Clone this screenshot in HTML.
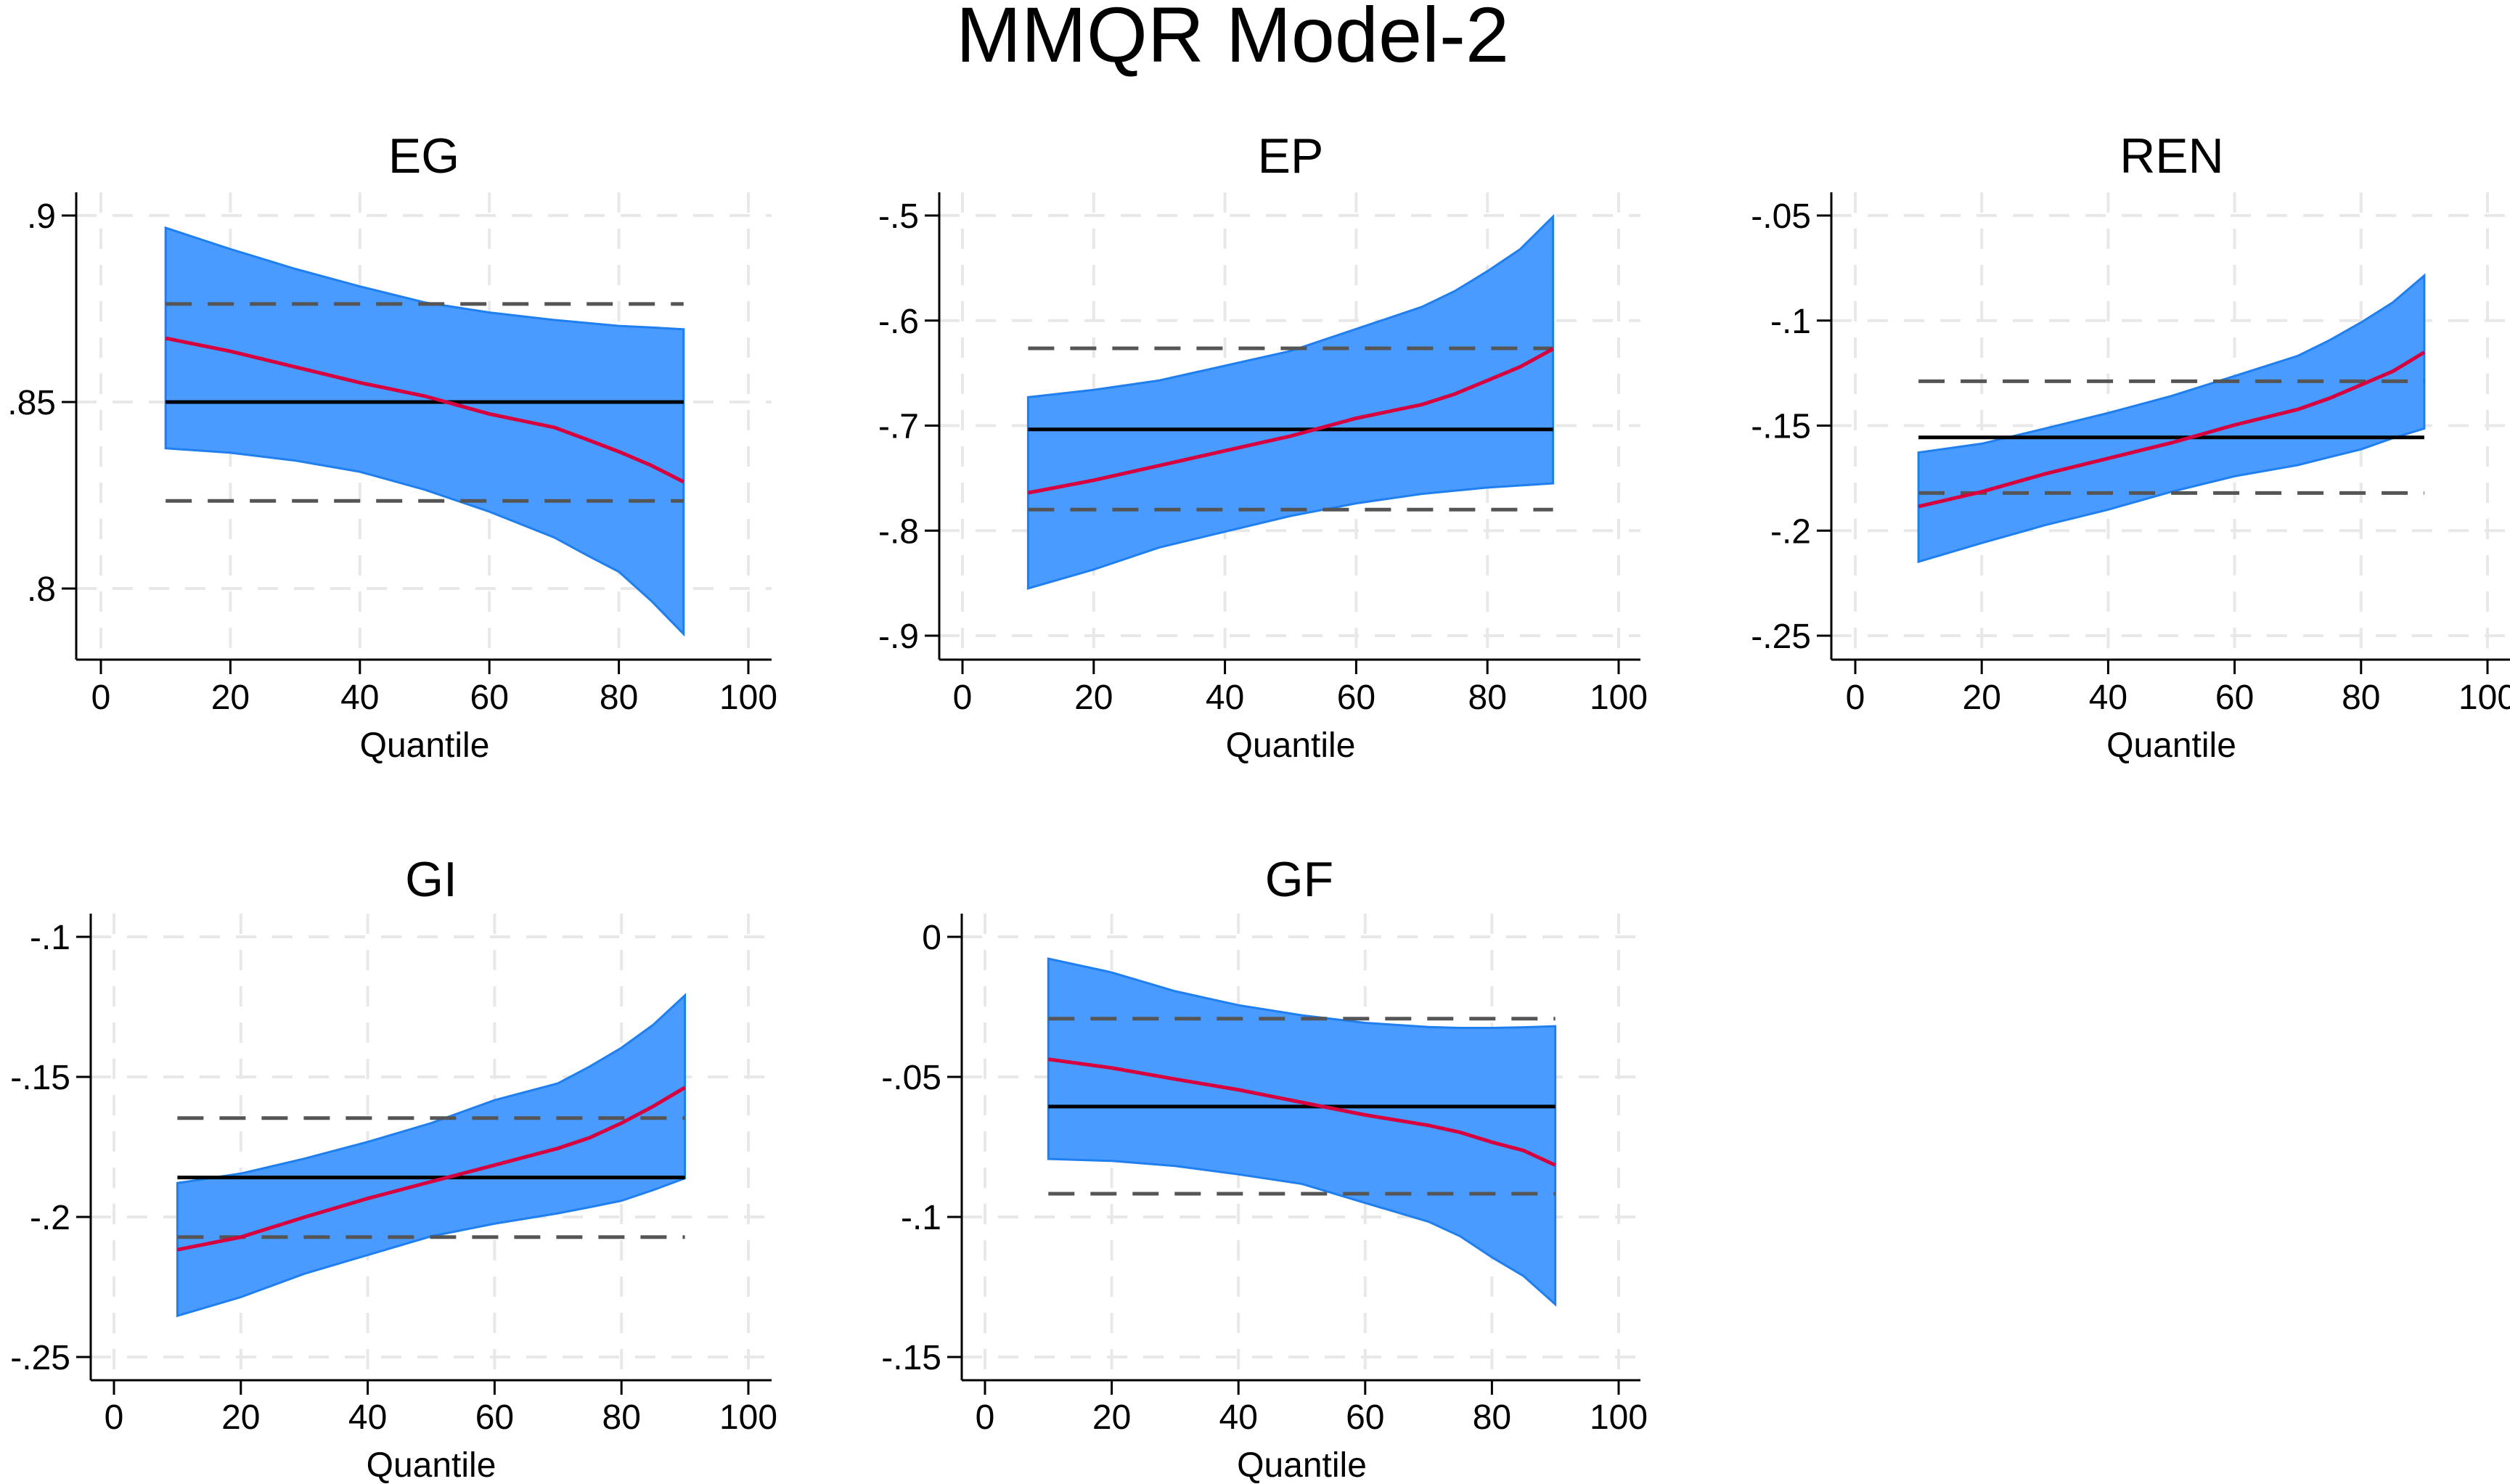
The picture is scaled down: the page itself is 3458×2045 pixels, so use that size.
<!DOCTYPE html>
<html><head><meta charset="utf-8">
<style>
html,body{margin:0;padding:0;background:#fff;}
svg{display:block;font-family:"Liberation Sans",Arial,sans-serif;}
</style></head>
<body>
<svg id="chart" width="3458" height="2045" viewBox="0 0 3458 2045" xmlns="http://www.w3.org/2000/svg">
<rect width="3458" height="2045" fill="#fff"/>
<text x="1698" y="85" font-size="108" text-anchor="middle" fill="#000">MMQR Model-2</text>
</svg>
<script>
const quantiles = [10,20,30,40,50,60,70,75,80,85,90];
const xTicks = [0,20,40,60,80,100];

const egUpper = [.8967,.891,.8857,.881,.8767,.874,.872,.8712,.8704,.870,.8695];
const egLower = [.8376,.8364,.8343,.8313,.8265,.8206,.8137,.809,.8045,.7967,.7878];
const egCoef  = [.8671,.8636,.8594,.8552,.8516,.8468,.8432,.840,.8367,.833,.8286];
const egOls = [.850, .8763, .8235];
const egTicks = [.9,.85,.8]; const egTickLabels = [".9",".85",".8"];

const epUpper = [-.673,-.666,-.657,-.643,-.629,-.608,-.587,-.572,-.553,-.532,-.501];
const epLower = [-.855,-.837,-.816,-.801,-.786,-.774,-.765,-.762,-.759,-.757,-.755];
const epCoef  = [-.764,-.752,-.738,-.724,-.710,-.693,-.680,-.670,-.657,-.644,-.627];
const epOls = [-.7036, -.6264, -.780];
const epTicks = [-.5,-.6,-.7,-.8,-.9]; const epTickLabels = ["-.5","-.6","-.7","-.8","-.9"];

const renUpper = [-.1628,-.1586,-.1514,-.144,-.1359,-.1264,-.1168,-.1094,-.1009,-.0914,-.0786];
const renLower = [-.2148,-.2059,-.1974,-.19,-.1815,-.1741,-.1688,-.165,-.1613,-.156,-.1514];
const renCoef  = [-.1885,-.1815,-.173,-.1656,-.1582,-.1497,-.1423,-.137,-.1306,-.1242,-.1151];
const renOls = [-.1556, -.1289, -.1821];
const renTicks = [-.05,-.1,-.15,-.2,-.25]; const renTickLabels = ["-.05","-.1","-.15","-.2","-.25"];

const giUpper = [-.1879,-.1845,-.1792,-.1732,-.1665,-.1583,-.1523,-.1463,-.1396,-.1314,-.1209];
const giLower = [-.2353,-.2286,-.2203,-.2136,-.2069,-.2024,-.1987,-.1965,-.1942,-.1904,-.1862];
const giCoef  = [-.2117,-.2072,-.2001,-.1934,-.1874,-.1815,-.1755,-.1717,-.1665,-.1605,-.1538];
const giOls = [-.1859, -.1647, -.2072];
const giTicks = [-.1,-.15,-.2,-.25]; const giTickLabels = ["-.1","-.15","-.2","-.25"];

const gfUpper = [-.0078,-.0127,-.0194,-.0244,-.028,-.0307,-.0322,-.0325,-.0325,-.0323,-.0319];
const gfLower = [-.0793,-.08,-.0818,-.0848,-.0882,-.095,-.1017,-.1069,-.1144,-.1211,-.1312];
const gfCoef  = [-.0437,-.0468,-.0508,-.0546,-.0591,-.0636,-.0673,-.0698,-.0733,-.0763,-.0815];
const gfOls = [-.0606, -.0292, -.0917];
const gfTicks = [0,-.05,-.1,-.15]; const gfTickLabels = ["0","-.05","-.1","-.15"];

const NS = "http://www.w3.org/2000/svg";
const svg = document.getElementById("chart");
function mk(tag, attrs, parent){
  const e = document.createElementNS(NS, tag);
  for (const k in attrs) e.setAttribute(k, attrs[k]);
  (parent||svg).appendChild(e);
  return e;
}

const panels = [
  {key:"eg", title:"EG", up:egUpper, lo:egLower, coef:egCoef, ols:egOls, ticks:egTicks, labels:egTickLabels,
   x0:139,x100:1031, v1:.9,p1:297,v2:.8,p2:811, axX:105, axRight:1063, top:265, bot:909, titleX:584, titleY:238, tickY:977, qY:1043},
  {key:"ep", title:"EP", up:epUpper, lo:epLower, coef:epCoef, ols:epOls, ticks:epTicks, labels:epTickLabels,
   x0:1326,x100:2230, v1:-.5,p1:297,v2:-.9,p2:876, axX:1294, axRight:2260, top:265, bot:909, titleX:1778, titleY:238, tickY:977, qY:1043},
  {key:"ren", title:"REN", up:renUpper, lo:renLower, coef:renCoef, ols:renOls, ticks:renTicks, labels:renTickLabels,
   x0:2556,x100:3427, v1:-.05,p1:297,v2:-.25,p2:876, axX:2523, axRight:3458, top:265, bot:909, titleX:2992, titleY:238, tickY:977, qY:1043},
  {key:"gi", title:"GI", up:giUpper, lo:giLower, coef:giCoef, ols:giOls, ticks:giTicks, labels:giTickLabels,
   x0:157,x100:1031, v1:-.1,p1:1291,v2:-.25,p2:1870, axX:125, axRight:1063, top:1259, bot:1902, titleX:594, titleY:1235, tickY:1969, qY:2035},
  {key:"gf", title:"GF", up:gfUpper, lo:gfLower, coef:gfCoef, ols:gfOls, ticks:gfTicks, labels:gfTickLabels,
   x0:1357,x100:2230, v1:0,p1:1291,v2:-.15,p2:1870, axX:1325, axRight:2260, top:1259, bot:1902, titleX:1790, titleY:1235, tickY:1969, qY:2035}
];

panels.forEach(p => {
  const xs = q => p.x0 + (p.x100 - p.x0) * q / 100;
  const ys = v => p.p1 + (p.p2 - p.p1) * (v - p.v1) / (p.v2 - p.v1);
  const g = mk("g", {});
  
  

  xTicks.forEach(t => {
    const l = mk("line", {x1:xs(t), x2:xs(t), y1:p.top, y2:p.bot, stroke:"#e8e8e8", "stroke-width":4, "stroke-dasharray":"28 22"}, g);
    
    
  });
  p.ticks.forEach(t => {
    const l = mk("line", {x1:p.axX, x2:p.axRight, y1:ys(t), y2:ys(t), stroke:"#e8e8e8", "stroke-width":4, "stroke-dasharray":"28 22"}, g);
    
    
  });

  let d = "";
  quantiles.forEach((q,i) => { d += (i ? "L" : "M") + xs(q) + "," + ys(p.up[i]); });
  for (let i = quantiles.length - 1; i >= 0; i--) d += "L" + xs(quantiles[i]) + "," + ys(p.lo[i]);
  d += "Z";
  const band = mk("path", {d:d, fill:"#4a9bff", stroke:"#1f7fef", "stroke-width":3}, g);
  
  

  const qa = quantiles[0], qb = quantiles[quantiles.length - 1];
  const ols = mk("line", {x1:xs(qa), x2:xs(qb), y1:ys(p.ols[0]), y2:ys(p.ols[0]), stroke:"#000", "stroke-width":5}, g);
  
  
  [1,2].forEach(k => {
    const l = mk("line", {x1:xs(qa), x2:xs(qb), y1:ys(p.ols[k]), y2:ys(p.ols[k]), stroke:"#555", "stroke-width":5, "stroke-dasharray":"36 22"}, g);
    
    
  });

  let cd = "";
  quantiles.forEach((q,i) => { cd += (i ? "L" : "M") + xs(q) + "," + ys(p.coef[i]); });
  const coef = mk("path", {d:cd, fill:"none", stroke:"#d6003f", "stroke-width":5}, g);
  
  

  const ya = mk("line", {x1:p.axX, x2:p.axX, y1:p.top, y2:p.bot, stroke:"#000", "stroke-width":3}, g);
  
  
  const xa = mk("line", {x1:p.axX, x2:p.axRight, y1:p.bot, y2:p.bot, stroke:"#000", "stroke-width":3}, g);
  
  

  p.ticks.forEach((t,i) => {
    mk("line", {x1:p.axX - 20, x2:p.axX, y1:ys(t), y2:ys(t), stroke:"#000", "stroke-width":3}, g);
    const tx = mk("text", {x:p.axX - 28, y:ys(t) + 17, "font-size":48, "text-anchor":"end", fill:"#000"}, g);
    tx.textContent = p.labels[i];
    
    
  });
  xTicks.forEach(t => {
    mk("line", {x1:xs(t), x2:xs(t), y1:p.bot, y2:p.bot + 20, stroke:"#000", "stroke-width":3}, g);
    const tx = mk("text", {x:xs(t), y:p.tickY, "font-size":48, "text-anchor":"middle", fill:"#000"}, g);
    tx.textContent = String(t);
    
    
  });

  const xt = mk("text", {x:(p.x0 + p.x100) / 2, y:p.qY, "font-size":48, "text-anchor":"middle", fill:"#000"}, g);
  xt.textContent = "Quantile";
  
  

  const tt = mk("text", {x:p.titleX, y:p.titleY, "font-size":68, "text-anchor":"middle", fill:"#000"}, g);
  tt.textContent = p.title;
  
  
});
</script>
</body></html>
